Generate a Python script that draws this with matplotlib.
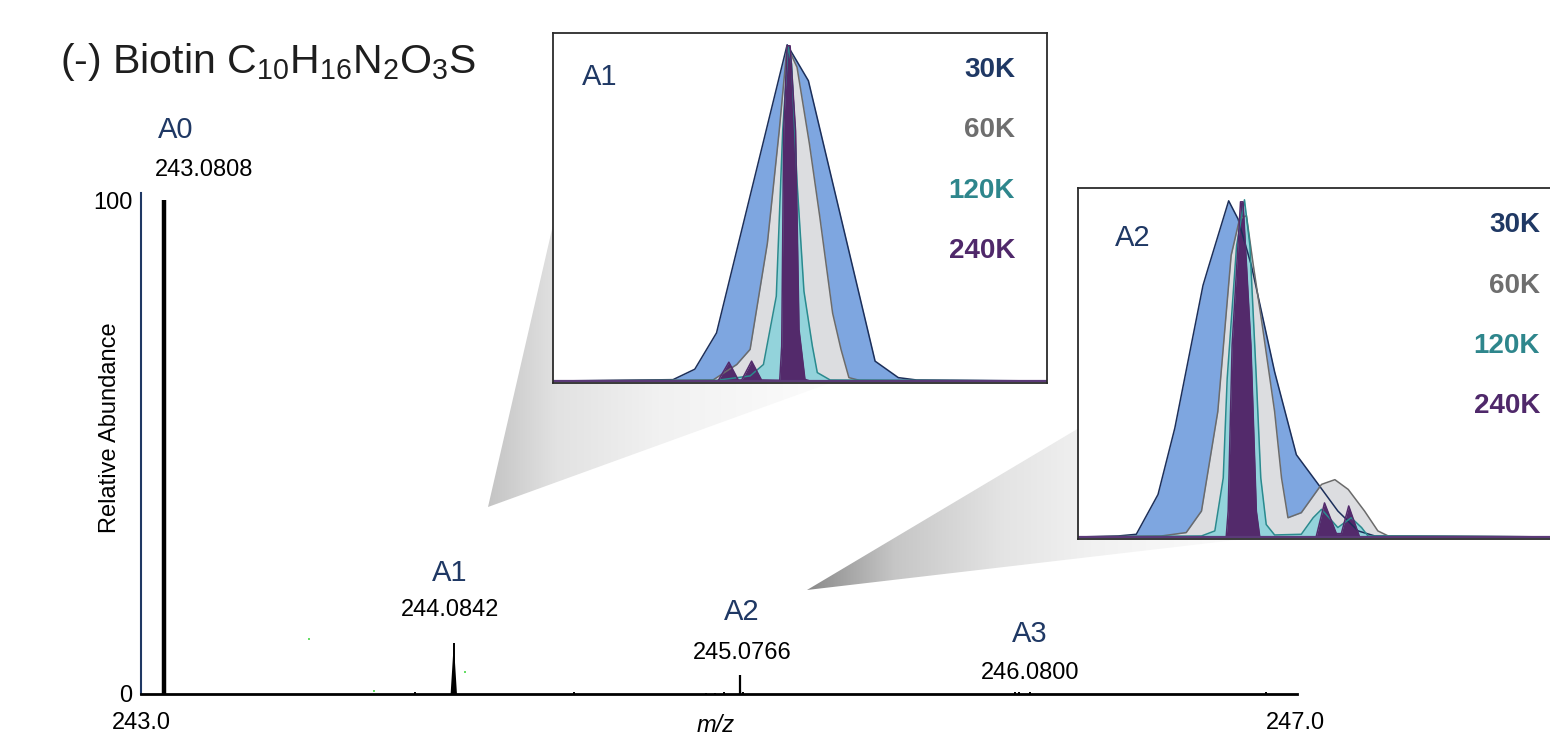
"""
biotin isotope pattern with resolution insets
"""

import numpy as np
import matplotlib.pyplot as plt
from matplotlib.colors import LinearSegmentedColormap
from matplotlib.patches import Polygon

plt.rcParams['font.family'] = ['Liberation Sans', 'DejaVu Sans']
plt.rcParams['mathtext.fontset'] = 'custom'
plt.rcParams['mathtext.rm'] = 'Liberation Sans'
plt.rcParams['mathtext.it'] = 'Liberation Sans:italic'
plt.rcParams['mathtext.bf'] = 'Liberation Sans:bold'

# Main spectrum (relative abundance vs m/z).
peak_mz = [243.0808, 244.0842, 245.0766, 246.0800]
peak_int = [100.0, 10.3, 3.8, 0.3]
peak_names = ['A0', 'A1', 'A2', 'A3']
peak_labels = ['243.0808', '244.0842', '245.0766', '246.0800']

minor_mz = [243.95, 244.50, 244.96, 244.99, 245.02, 245.085,
            246.03, 246.045, 246.08, 246.90]
minor_int = [0.5, 0.4, 0.3, 0.3, 0.4, 0.4, 0.4, 0.4, 0.4, 0.4]

speck_mz = [243.583, 244.122, 243.806]
speck_int = [11.1, 4.45, 0.6]

x_ticks = [243.0, 247.0]
x_ticklabels = ['243.0', '247.0']
y_ticks = [0, 100]
y_ticklabels = ['0', '100']

res_names = ['30K', '60K', '120K', '240K']

# Inset A1 profiles (relative position, relative height).
a1_30k_x = [0, 12.8, 24.3, 28.7, 33.1, 47.4, 51.7, 65.2, 69.9, 73.6, 100]
a1_30k_y = [0, 0.2, 0.4, 3.5, 14.3, 100, 89.3, 5.9, 1.0, 0.3, 0]
a1_60k_x = [0, 32.4, 37.2, 39.9, 43.4, 45.8, 47.4, 49.4, 51.9, 54.0,
            56.6, 58.3, 59.9, 62.0, 100]
a1_60k_y = [0, 0.3, 4.9, 9.4, 41.0, 74.5, 99.7, 93.3, 70.6, 48.9,
            20.2, 9.4, 1.0, 0.2, 0]
a1_120k_x = [0, 33.1, 39.9, 42.6, 45.2, 46.5, 47.6, 48.3, 49.4, 50.8,
             52.5, 53.5, 56.1, 100]
a1_120k_y = [0, 0.2, 1.5, 4.9, 25.2, 74.5, 99.7, 94.3, 59.2, 26.7,
             10.4, 2.5, 0.3, 0]
a1_240k_x = [0, 33.4, 35.6, 37.5, 38.2, 40.2, 42.2, 45.9, 46.3, 46.7,
             47.4, 48.0, 49.1, 49.8, 51.0, 52.0, 100]
a1_240k_y = [0, 0, 5.6, 0.3, 0.3, 5.9, 0.3, 0.2, 10.4, 74.5,
             99.7, 99.7, 74.5, 15.3, 0.5, 0, 0]

# Inset A2 profiles.
a2_30k_x = [0, 8.1, 11.8, 16.2, 19.6, 25.3, 26.3, 30.5, 32.4, 35.1,
            39.8, 44.2, 48.9, 52.6, 56.7, 60.1, 100]
a2_30k_y = [0, 0.3, 0.8, 12.6, 32.3, 74.6, 79.5, 99.7, 94.3, 80.5,
            49.0, 24.4, 15.1, 7.7, 1.8, 0.3, 0]
a2_60k_x = [0, 16.9, 21.9, 25.0, 28.3, 31.0, 32.7, 34.1, 35.4, 37.4,
            39.8, 41.2, 42.5, 45.2, 49.3, 52.0, 54.7, 58.0, 60.7, 62.8, 100]
a2_60k_y = [0, 0.3, 1.3, 7.7, 37.2, 83.5, 94.3, 95.3, 81.5, 61.8,
            37.2, 17.5, 5.7, 7.2, 15.6, 17.0, 14.1, 7.7, 1.8, 0.3, 0]
a2_120k_x = [0, 25.0, 27.7, 29.4, 30.2, 32.1, 33.7, 34.8, 36.1, 37.0,
             38.1, 39.8, 45.2, 47.6, 49.3, 52.6, 55.3, 57.4, 58.7, 100]
a2_120k_y = [0, 0.3, 1.8, 17.5, 47.0, 86.4, 100, 86.4, 47.0, 17.5,
             3.7, 0.6, 0.8, 5.7, 8.2, 2.8, 5.7, 2.8, 0.3, 0]
a2_240k_x = [0, 30.0, 30.4, 31.2, 32.9, 33.4, 35.0, 36.1, 36.8, 48.2,
             49.9, 52.3, 53.3, 54.8, 57.0, 100]
a2_240k_y = [0, 0, 7.7, 56.9, 99.4, 99.4, 56.9, 7.7, 0, 0,
             10.1, 1.0, 1.0, 9.2, 0, 0]

# Colours.
navy = '#1f3864'
fill_cols = ['#7ea6e0', '#dcdde0', '#93d3db', '#532a6b']
edge_cols = ['#1c2f5a', '#6b6b6b', '#2a8a8e', '#532a6b']
text_cols = ['#1f3864', '#6e6e6e', '#2e868c', '#4f286a']

W, H = 1550, 745
fig = plt.figure(figsize=(W / 100, H / 100), dpi=100)

# Background layer in pixel coordinates for the zoom wedges.
bg = fig.add_axes([0, 0, 1, 1], zorder=0)


def draw_wedge(pts, stops):
    cmap = LinearSegmentedColormap.from_list('w', stops)
    poly = Polygon(pts, closed=True, facecolor='none', edgecolor='none')
    bg.add_patch(poly)
    xs = [p[0] for p in pts]
    ys = [p[1] for p in pts]
    grad = np.linspace(0, 1, 256).reshape(1, -1)
    im = bg.imshow(grad, cmap=cmap, aspect='auto', interpolation='bilinear',
                   extent=(min(xs), max(xs), max(ys), min(ys)))
    im.set_clip_path(poly)


draw_wedge([(488, 507), (553, 225), (830, 383)],
           [(0, '#c4c4c4'), (0.2, '#e2e2e2'), (0.5, '#f1f1f1'),
            (1, '#fcfcfc')])
draw_wedge([(807, 590), (1079, 428), (1244, 539)],
           [(0, '#8a8a8a'), (0.2, '#c6c6c6'), (0.45, '#e4e4e4'),
            (0.65, '#f1f1f1'), (1, '#fcfcfc')])
bg.set_xlim(0, W)
bg.set_ylim(H, 0)
bg.axis('off')

# Main spectrum axes.
ax = fig.add_axes([141 / W, 1 - 694 / H, (1297 - 141) / W, (694 - 193) / H],
                  zorder=1)
ax.patch.set_alpha(0)
ax.set_xlim(243.0, 247.007)
ax.set_ylim(0, 101.5)

half_w = [0.004, 0.011, 0.004, 0.003]
for m, h, hw in zip(peak_mz, peak_int, half_w):
    ax.fill([m - hw, m, m + hw], [0, h, 0], color='k', lw=0)
ax.vlines(peak_mz, 0, peak_int, color='k', linewidths=[3.2, 1.4, 1.6, 1.4])
ax.vlines(minor_mz, 0, minor_int, color='k', linewidths=1.4)
ax.plot(speck_mz, speck_int, 's', ms=1.6, mew=0, color='#66dd66')

name_xy = [(243.121, 114.2), (244.071, 24.5), (245.083, 16.6),
           (246.081, 12.1)]
mass_xy = [(243.218, 106.1), (244.071, 17.0), (245.083, 8.3),
           (246.081, 4.25)]
for s, (x, y) in zip(peak_names, name_xy):
    ax.text(x, y, s, ha='center', va='center', fontsize=21, color=navy)
for s, (x, y) in zip(peak_labels, mass_xy):
    ax.text(x, y, s, ha='center', va='center', fontsize=17, color='k')

for side in ['top', 'right']:
    ax.spines[side].set_visible(False)
ax.spines['left'].set_color(navy)
ax.spines['left'].set_linewidth(1.5)
ax.spines['bottom'].set_color('k')
ax.spines['bottom'].set_linewidth(2.0)
ax.set_xticks(x_ticks)
ax.set_xticklabels(x_ticklabels)
ax.set_yticks(y_ticks)
ax.set_yticklabels(y_ticklabels)
ax.tick_params(axis='both', length=0, labelsize=17)
ax.tick_params(axis='x', pad=13)
ax.tick_params(axis='y', pad=6)
for lbl in ax.get_xticklabels():
    lbl.set_x(lbl.get_position()[0])
ax.text(0.497, -0.062, 'm/z', transform=ax.transAxes, ha='center',
        va='center', fontsize=17, style='italic')
ax.text(-0.027, 0.531, 'Relative Abundance', transform=ax.transAxes,
        ha='center', va='center', rotation=90, fontsize=17)

fig.text(60 / W, 1 - 62 / H,
         r'(-) Biotin C$_{10}$H$_{16}$N$_{2}$O$_{3}$S',
         ha='left', va='center', fontsize=29.5, color='#1e1e1e')


def draw_inset(rect, name, name_pos, profiles):
    axi = fig.add_axes(rect, zorder=2)
    axi.set_facecolor('white')
    for (px, py), fc, ec in zip(profiles, fill_cols, edge_cols):
        axi.fill_between(px, py, 0, color=fc, lw=0)
        axi.plot(px, py, color=ec, lw=1.1)
    axi.axhline(0, color='#5b3a78', lw=1.6)
    axi.set_xlim(0, 100)
    axi.set_ylim(-0.6, 103.5)
    axi.set_xticks([])
    axi.set_yticks([])
    for sp in axi.spines.values():
        sp.set_color('#2b2b2b')
        sp.set_linewidth(1.3)
    axi.text(name_pos[0], name_pos[1], name, transform=axi.transAxes,
             ha='left', va='center', fontsize=21, color=navy)
    for i, (s, c) in enumerate(zip(res_names, text_cols)):
        axi.text(0.935, 0.894 - 0.172 * i, s, transform=axi.transAxes,
                 ha='right', va='center', fontsize=20, fontweight='bold',
                 color=c)
    return axi


draw_inset([553 / W, 1 - 383 / H, 494 / W, 350 / H], 'A1', (0.059, 0.874),
           [(a1_30k_x, a1_30k_y), (a1_60k_x, a1_60k_y),
            (a1_120k_x, a1_120k_y), (a1_240k_x, a1_240k_y)])
draw_inset([1078 / W, 1 - 539 / H, 494 / W, 351 / H], 'A2', (0.075, 0.857),
           [(a2_30k_x, a2_30k_y), (a2_60k_x, a2_60k_y),
            (a2_120k_x, a2_120k_y), (a2_240k_x, a2_240k_y)])

fig.savefig('out.png', dpi=100)
